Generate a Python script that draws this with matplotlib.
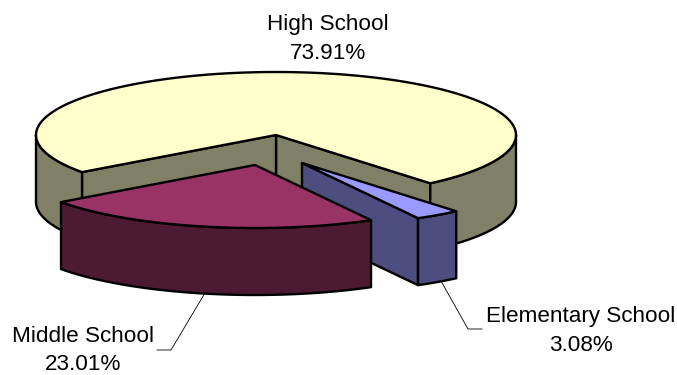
import numpy as np
import matplotlib
matplotlib.use("Agg")
import matplotlib.pyplot as plt
from matplotlib.patches import Polygon

categories = ["Elementary School", "Middle School", "High School"]
shares = [3.08, 23.01, 73.91]
top_colors = ["#9999FF", "#993366", "#FFFFCC"]
wall_colors = ["#4D4D80", "#4D1A33", "#808066"]
offsets = [(26, 28), (-21, 30), (0, 0)]

CX, CY, RX, RY, DEPTH = 276, 135, 240, 63, 67
START = 50
LW = 1.7

plt.rcParams["font.family"] = ["Liberation Sans", "DejaVu Sans"]
fig = plt.figure(figsize=(6.77, 3.75), dpi=100)
ax = fig.add_axes([0, 0, 1, 1])
ax.set_xlim(0, 677)
ax.set_ylim(375, 0)
ax.axis("off")


def arc(t0, t1, ox, oy, dz=0, n=120):
    t = np.radians(np.linspace(t0, t1, n))
    return np.column_stack([CX + ox + RX * np.cos(t), CY + oy + dz + RY * np.sin(t)])


def poly(pts, color, z):
    ax.add_patch(Polygon(pts, closed=True, facecolor=color, edgecolor="black",
                         linewidth=LW, joinstyle="round", zorder=z))


def draw_slice(t0, t1, off, top, wall, z):
    ox, oy = off
    apex = np.array([CX + ox, CY + oy])
    drop = np.array([0, DEPTH])
    a0 = arc(t0, t0, ox, oy, n=1)[0]
    a1 = arc(t1, t1, ox, oy, n=1)[0]
    # radial walls, drawn only when they face the viewer
    if np.cos(np.radians(t1)) > 0:
        poly([apex, a1, a1 + drop, apex + drop], wall, z)
    if np.cos(np.radians(t0)) < 0:
        poly([apex, a0, a0 + drop, apex + drop], wall, z)
    # outer rim, only the parts in front
    for k in range(-1, 2):
        lo, hi = max(t0, 360 * k), min(t1, 360 * k + 180)
        if hi > lo:
            poly(np.vstack([arc(lo, hi, ox, oy), arc(hi, lo, ox, oy, DEPTH)]), wall, z)
    poly(np.vstack([[apex], arc(t0, t1, ox, oy)]), top, z + 0.5)


angle = START
z_order = {"Elementary School": 2, "Middle School": 3, "High School": 1}
for name, share, off, top, wall in zip(categories, shares, offsets, top_colors, wall_colors):
    span = share / sum(shares) * 360
    draw_slice(angle, angle + span, off, top, wall, z_order[name])
    angle += span

labels = {
    "High School": (328, 39, None),
    "Middle School": (83, 350.5, [(205, 293), (171, 350), (157, 350)]),
    "Elementary School": (581, 331, [(441, 281), (468, 329), (482, 329)]),
}
for name, share in zip(categories, shares):
    x, y, leader = labels[name]
    ax.text(x, y, f"{name}\n{share:.2f}%", ha="center", va="center", fontsize=16.2,
            color="black", linespacing=1.45, zorder=6)
    if leader:
        xs, ys = zip(*leader)
        ax.plot(xs, ys, color="black", lw=0.6, zorder=0.5)

fig.savefig("out.png", dpi=100, facecolor="white")
